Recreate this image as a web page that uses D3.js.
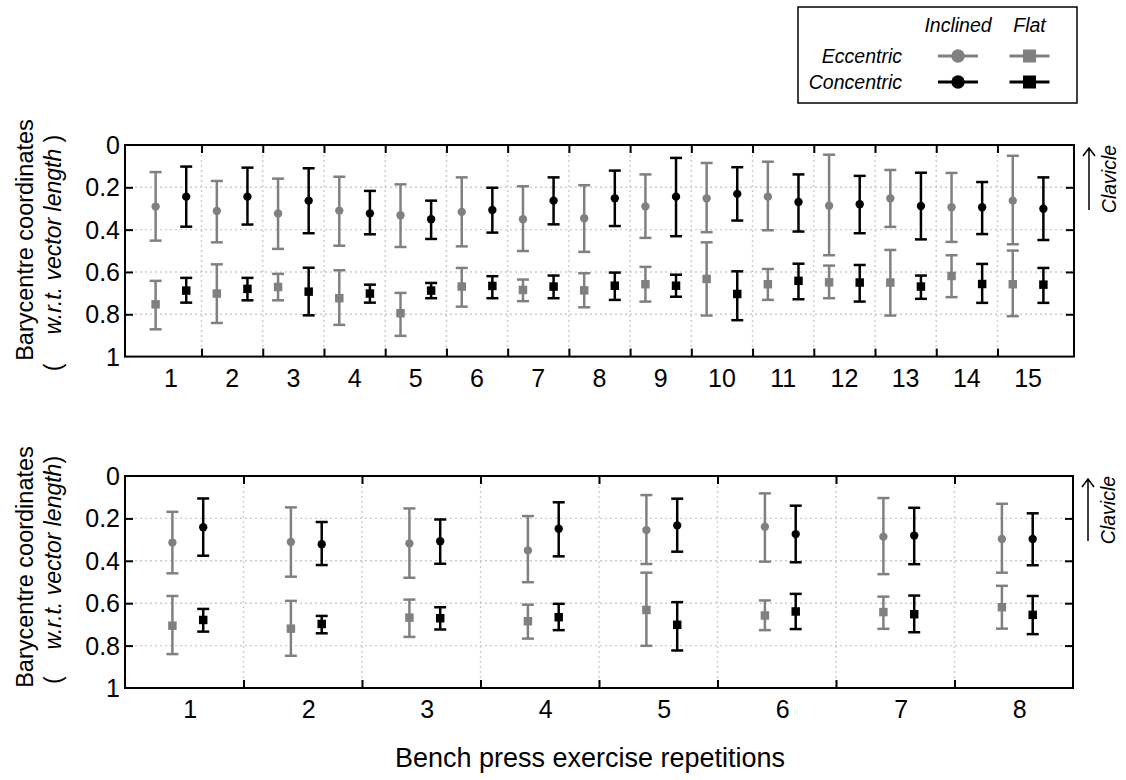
<!DOCTYPE html>
<html>
<head>
<meta charset="utf-8">
<script src="https://cdn.jsdelivr.net/npm/d3@7"></script>
<style>
  body { margin: 0; background: #fff; }
  svg { font-family: "Liberation Sans", Arial, sans-serif; }
</style>
</head>
<body>
<script>
const W = 1126, H = 780
const GRAY = '#808080', BLACK = '#000'

// ---- panel 1: 15 repetitions ----
const reps1 = d3.range(1, 16)
const incEcc1 = [0.291, 0.312, 0.324, 0.310, 0.332, 0.316, 0.351, 0.346, 0.290, 0.252, 0.244, 0.287, 0.252, 0.294, 0.263]
const incEcc1Lo = [0.128, 0.170, 0.159, 0.150, 0.186, 0.153, 0.195, 0.190, 0.139, 0.085, 0.079, 0.046, 0.118, 0.132, 0.051]
const incEcc1Hi = [0.452, 0.460, 0.491, 0.476, 0.482, 0.479, 0.501, 0.505, 0.439, 0.412, 0.403, 0.521, 0.387, 0.458, 0.469]
const incCon1 = [0.244, 0.244, 0.263, 0.323, 0.351, 0.307, 0.263, 0.252, 0.244, 0.231, 0.269, 0.280, 0.288, 0.294, 0.301]
const incCon1Lo = [0.102, 0.107, 0.110, 0.217, 0.263, 0.202, 0.153, 0.121, 0.061, 0.105, 0.139, 0.146, 0.131, 0.175, 0.153]
const incCon1Hi = [0.386, 0.376, 0.417, 0.422, 0.444, 0.414, 0.375, 0.383, 0.431, 0.357, 0.409, 0.417, 0.446, 0.421, 0.449]
const flatEcc1 = [0.753, 0.702, 0.671, 0.724, 0.795, 0.669, 0.685, 0.687, 0.658, 0.633, 0.658, 0.649, 0.650, 0.619, 0.658]
const flatEcc1Lo = [0.642, 0.564, 0.609, 0.592, 0.699, 0.581, 0.636, 0.606, 0.576, 0.460, 0.586, 0.570, 0.496, 0.521, 0.499]
const flatEcc1Hi = [0.871, 0.841, 0.734, 0.850, 0.902, 0.764, 0.738, 0.767, 0.740, 0.806, 0.732, 0.724, 0.806, 0.719, 0.809]
const flatCon1 = [0.688, 0.680, 0.693, 0.702, 0.688, 0.666, 0.669, 0.665, 0.665, 0.704, 0.642, 0.650, 0.669, 0.657, 0.660]
const flatCon1Lo = [0.628, 0.628, 0.580, 0.660, 0.652, 0.620, 0.617, 0.603, 0.613, 0.597, 0.561, 0.567, 0.617, 0.562, 0.581]
const flatCon1Hi = [0.745, 0.734, 0.805, 0.745, 0.724, 0.724, 0.724, 0.732, 0.717, 0.828, 0.729, 0.740, 0.727, 0.746, 0.746]

// ---- panel 2: 8 repetitions ----
const reps2 = d3.range(1, 9)
const incEcc2 = [0.314, 0.311, 0.318, 0.351, 0.255, 0.239, 0.286, 0.297]
const incEcc2Lo = [0.169, 0.148, 0.153, 0.189, 0.090, 0.082, 0.104, 0.131]
const incEcc2Hi = [0.459, 0.475, 0.480, 0.501, 0.415, 0.404, 0.463, 0.456]
const incCon2 = [0.242, 0.322, 0.308, 0.249, 0.233, 0.274, 0.281, 0.297]
const incCon2Lo = [0.106, 0.217, 0.205, 0.124, 0.107, 0.140, 0.150, 0.176]
const incCon2Hi = [0.376, 0.420, 0.414, 0.379, 0.357, 0.407, 0.416, 0.421]
const flatEcc2 = [0.706, 0.720, 0.668, 0.685, 0.632, 0.658, 0.642, 0.619]
const flatEcc2Lo = [0.566, 0.589, 0.583, 0.607, 0.456, 0.587, 0.569, 0.518]
const flatEcc2Hi = [0.840, 0.848, 0.759, 0.767, 0.801, 0.727, 0.721, 0.720]
const flatCon2 = [0.679, 0.698, 0.671, 0.666, 0.702, 0.639, 0.652, 0.655]
const flatCon2Lo = [0.627, 0.660, 0.619, 0.603, 0.595, 0.556, 0.564, 0.566]
const flatCon2Hi = [0.734, 0.742, 0.724, 0.727, 0.823, 0.722, 0.737, 0.746]

const yTicks = [0, 0.2, 0.4, 0.6, 0.8, 1]
const yTickLabels = ['0', '0.2', '0.4', '0.6', '0.8', '1']

const svg = d3.select('body').append('svg')
  .attr('width', W)
  .attr('height', H)

let rows = (reps, m, lo, hi) => reps.map((r, i) => ({ r, m: m[i], lo: lo[i], hi: hi[i] }))

function panel (cfg) {
  let x = d3.scaleLinear().domain(cfg.domain).range([cfg.left, cfg.right])
  let y = d3.scaleLinear().domain([0, 1]).range([cfg.top, cfg.bottom])
  let g = svg.append('g')
  let dividers = cfg.reps.slice(0, -1).map(d => d + 0.5)

  // dotted grid
  let grid = g.append('g')
    .attr('stroke', '#cccccc')
    .attr('stroke-width', 1.4)
    .attr('stroke-dasharray', '2,3')
  grid.selectAll('.gy').data([0.2, 0.4, 0.6, 0.8]).enter()
    .append('line')
    .attr('x1', cfg.left).attr('x2', cfg.right)
    .attr('y1', d => y(d)).attr('y2', d => y(d))
  grid.selectAll('.gx').data(dividers).enter()
    .append('line')
    .attr('x1', d => x(d)).attr('x2', d => x(d))
    .attr('y1', cfg.top).attr('y2', cfg.bottom)

  // inward ticks on all four sides
  let tk = (axis, tr) => g.append('g')
    .attr('transform', tr)
    .call(axis)
    .call(s => s.select('.domain').remove())
    .call(s => s.selectAll('.tick line').attr('stroke', '#000').attr('stroke-width', 2))
    .call(s => s.selectAll('.tick text').remove())
  tk(d3.axisBottom(x).tickValues(dividers).tickSize(-8), `translate(0,${cfg.bottom})`)
  tk(d3.axisTop(x).tickValues(dividers).tickSize(-8), `translate(0,${cfg.top})`)
  tk(d3.axisLeft(y).tickValues([0.2, 0.4, 0.6, 0.8]).tickSize(-8), `translate(${cfg.left},0)`)
  tk(d3.axisRight(y).tickValues([0.2, 0.4, 0.6, 0.8]).tickSize(-8), `translate(${cfg.right},0)`)

  // tick labels
  g.append('g').selectAll('text').data(yTicks).enter()
    .append('text')
    .attr('x', cfg.left - 5)
    .attr('y', d => y(d))
    .attr('dy', '0.36em')
    .attr('text-anchor', 'end')
    .attr('font-size', 25)
    .text((d, i) => yTickLabels[i])
  g.append('g').selectAll('text').data(cfg.reps).enter()
    .append('text')
    .attr('x', d => x(d + cfg.labelOff))
    .attr('y', cfg.bottom + 30)
    .attr('text-anchor', 'middle')
    .attr('font-size', 25)
    .text(d => d)

  // frame
  g.append('rect')
    .attr('x', cfg.left).attr('y', cfg.top)
    .attr('width', cfg.right - cfg.left).attr('height', cfg.bottom - cfg.top)
    .attr('fill', 'none').attr('stroke', '#000').attr('stroke-width', 2)

  // error bars + markers
  cfg.series.forEach(s => {
    let sg = g.append('g').attr('stroke', s.color).attr('stroke-width', 2.5)
    let px = d => x(d.r + s.off)
    sg.selectAll('.v').data(s.data).enter().append('line')
      .attr('x1', px).attr('x2', px)
      .attr('y1', d => y(d.lo)).attr('y2', d => y(d.hi))
    sg.selectAll('.c1').data(s.data).enter().append('line')
      .attr('x1', d => px(d) - 6).attr('x2', d => px(d) + 6)
      .attr('y1', d => y(d.lo)).attr('y2', d => y(d.lo))
    sg.selectAll('.c2').data(s.data).enter().append('line')
      .attr('x1', d => px(d) - 6).attr('x2', d => px(d) + 6)
      .attr('y1', d => y(d.hi)).attr('y2', d => y(d.hi))
    let sym = d3.symbol().type(s.shape === 'circle' ? d3.symbolCircle : d3.symbolSquare)
      .size(s.shape === 'circle' ? 55 : 72)
    g.append('g').selectAll('path').data(s.data).enter()
      .append('path')
      .attr('d', sym)
      .attr('transform', d => `translate(${px(d)},${y(d.m)})`)
      .attr('fill', s.color)
  })

  // y axis title
  g.append('text')
    .attr('transform', `translate(${cfg.left - 92},${cfg.titleY}) rotate(-90)`)
    .attr('text-anchor', 'middle')
    .attr('font-size', 23.5)
    .text('Barycentre coordinates')
  let t2 = g.append('text')
    .attr('transform', `translate(${cfg.left - 64},${cfg.titleY2}) rotate(-90)`)
    .attr('text-anchor', 'middle')
    .attr('font-size', 23)
  t2.append('tspan').text('(')
  t2.append('tspan').attr('dx', cfg.gap).attr('font-style', 'italic').text('w.r.t. vector length')
  t2.append('tspan').text(cfg.closeParen)

  // clavicle arrow
  let ax = cfg.right + 15
  let ay0 = cfg.top + 65, ay1 = cfg.top + 3
  g.append('path')
    .attr('d', `M${ax},${ay0}V${ay1}M${ax - 6},${ay1 + 8}L${ax},${ay1}L${ax + 6},${ay1 + 8}`)
    .attr('fill', 'none').attr('stroke', '#000').attr('stroke-width', 1.5)
  g.append('text')
    .attr('transform', `translate(${cfg.right + 42},${cfg.top + 34}) rotate(-90)`)
    .attr('text-anchor', 'middle')
    .attr('font-size', 19.5)
    .attr('font-style', 'italic')
    .text('Clavicle')
}

panel({
  reps: reps1, domain: [0.25, 15.75], left: 125, right: 1074, top: 145, bottom: 356.6,
  labelOff: 0, titleY: 240, titleY2: 253, gap: 29, closeParen: ' )',
  series: [
    { color: GRAY, off: -0.25, shape: 'circle', data: rows(reps1, incEcc1, incEcc1Lo, incEcc1Hi) },
    { color: BLACK, off: 0.25, shape: 'circle', data: rows(reps1, incCon1, incCon1Lo, incCon1Hi) },
    { color: GRAY, off: -0.25, shape: 'square', data: rows(reps1, flatEcc1, flatEcc1Lo, flatEcc1Hi) },
    { color: BLACK, off: 0.25, shape: 'square', data: rows(reps1, flatCon1, flatCon1Lo, flatCon1Hi) }
  ]
})

panel({
  reps: reps2, domain: [0.5, 8.5], left: 125, right: 1073, top: 476, bottom: 688,
  labelOff: 0.05, titleY: 567, titleY2: 570, gap: 27, closeParen: ')',
  series: [
    { color: GRAY, off: -0.1, shape: 'circle', data: rows(reps2, incEcc2, incEcc2Lo, incEcc2Hi) },
    { color: BLACK, off: 0.16, shape: 'circle', data: rows(reps2, incCon2, incCon2Lo, incCon2Hi) },
    { color: GRAY, off: -0.1, shape: 'square', data: rows(reps2, flatEcc2, flatEcc2Lo, flatEcc2Hi) },
    { color: BLACK, off: 0.16, shape: 'square', data: rows(reps2, flatCon2, flatCon2Lo, flatCon2Hi) }
  ]
})

svg.append('text')
  .attr('x', 590).attr('y', 767)
  .attr('text-anchor', 'middle')
  .attr('font-size', 27)
  .text('Bench press exercise repetitions')

// legend
const legCols = ['Inclined', 'Flat']
const legRows = ['Eccentric', 'Concentric']
const legColX = [958, 1029.5]
const legRowY = [56, 82]
const legColors = [GRAY, BLACK]
const leg = svg.append('g').attr('font-size', 19.5).attr('font-style', 'italic')
leg.append('rect')
  .attr('x', 798).attr('y', 7).attr('width', 279).attr('height', 96)
  .attr('fill', '#fff').attr('stroke', '#000').attr('stroke-width', 1.5)
leg.selectAll('.col').data(legCols).enter().append('text')
  .attr('x', (d, i) => legColX[i]).attr('y', 32)
  .attr('text-anchor', 'middle')
  .text(d => d)
leg.selectAll('.row').data(legRows).enter().append('text')
  .attr('x', 902).attr('y', (d, i) => legRowY[i] + 7)
  .attr('text-anchor', 'end')
  .text(d => d)
legRows.forEach((r, ri) => {
  legCols.forEach((c, ci) => {
    let cx = legColX[ci], cy = legRowY[ri]
    leg.append('line')
      .attr('x1', cx - 20).attr('x2', cx + 20).attr('y1', cy).attr('y2', cy)
      .attr('stroke', legColors[ri]).attr('stroke-width', 3)
    leg.append('path')
      .attr('d', d3.symbol().type(ci === 0 ? d3.symbolCircle : d3.symbolSquare).size(ci === 0 ? 140 : 169)())
      .attr('transform', `translate(${cx},${cy})`)
      .attr('fill', legColors[ri])
  })
})
</script>
</body>
</html>
